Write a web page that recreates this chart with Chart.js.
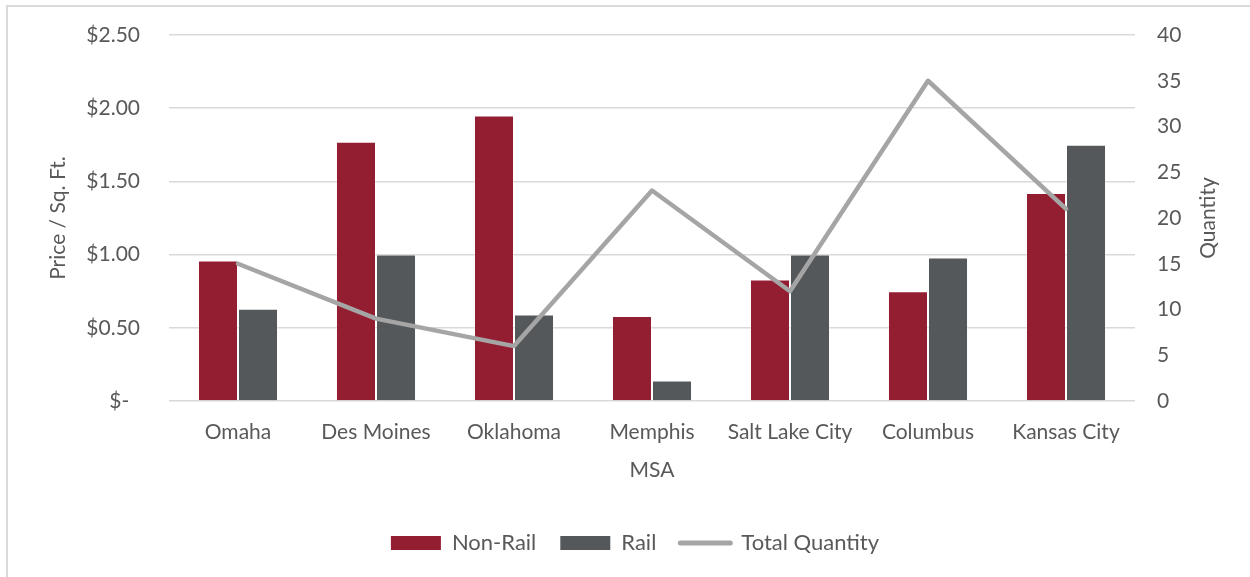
<!DOCTYPE html>
<html>
<head>
<meta charset="utf-8">
<script src="https://cdn.jsdelivr.net/npm/chart.js@4.4.0/dist/chart.umd.min.js"></script>
<style>
  html, body { margin: 0; padding: 0; background: #fff; }
  #wrap { position: relative; width: 1250px; height: 577px; }
</style>
</head>
<body>
<div id="wrap">
  <canvas id="msaChart" width="1250" height="577"></canvas>
</div>
<script>
const cities = ['Omaha', 'Des Moines', 'Oklahoma', 'Memphis', 'Salt Lake City', 'Columbus', 'Kansas City'];
const nonRailPrice = [0.96, 1.77, 1.95, 0.58, 0.83, 0.75, 1.42];
const railPrice = [0.63, 1.00, 0.59, 0.14, 1.00, 0.98, 1.75];
const totalQuantity = [15, 9, 6, 23, 12, 35, 21];
const priceTicks = [0, 0.5, 1, 1.5, 2, 2.5];
const quantityTicks = [0, 5, 10, 15, 20, 25, 30, 35, 40];

const TEXT = '#595959';
const FONT = 'Lato, "Open Sans", sans-serif';
const FONT_SIZE = 21;
const PAD_LEFT = 20;

// light frame around the figure
const frame = {
  id: 'frame',
  beforeDraw(chart) {
    const ctx = chart.ctx;
    ctx.save();
    ctx.fillStyle = '#fff';
    ctx.fillRect(0, 0, chart.width, chart.height);
    ctx.strokeStyle = '#d9d9d9';
    ctx.lineWidth = 2;
    ctx.beginPath();
    ctx.moveTo(7, chart.height);
    ctx.lineTo(7, 6);
    ctx.lineTo(chart.width, 6);
    ctx.stroke();
    ctx.restore();
  }
};

// right axis title, reading bottom-to-top like the left one
const qtyTitle = {
  id: 'qtyTitle',
  afterDraw(chart) {
    const scale = chart.scales.qty;
    const area = chart.chartArea;
    const ctx = chart.ctx;
    ctx.save();
    ctx.translate(scale.right - 42, (area.top + area.bottom) / 2);
    ctx.rotate(-Math.PI / 2);
    ctx.font = FONT_SIZE + 'px ' + FONT;
    ctx.fillStyle = TEXT;
    ctx.textAlign = 'center';
    ctx.textBaseline = 'middle';
    ctx.fillText('Quantity', 0, 0);
    ctx.restore();
  }
};

Chart.defaults.font.family = FONT;
Chart.defaults.font.size = FONT_SIZE;
Chart.defaults.color = TEXT;

new Chart(document.getElementById('msaChart'), {
  data: {
    labels: cities,
    datasets: [
      {
        type: 'bar',
        label: 'Non-Rail',
        data: nonRailPrice,
        backgroundColor: '#931e31',
        borderColor: 'rgba(255,255,255,0.35)',
        borderWidth: 1,
        yAxisID: 'price',
        order: 1
      },
      {
        type: 'bar',
        label: 'Rail',
        data: railPrice,
        backgroundColor: '#54585a',
        borderColor: 'rgba(255,255,255,0.35)',
        borderWidth: 1,
        yAxisID: 'price',
        order: 1
      },
      {
        type: 'line',
        label: 'Total Quantity',
        data: totalQuantity,
        borderColor: '#a5a5a5',
        backgroundColor: '#a5a5a5',
        borderWidth: 4.5,
        borderJoinStyle: 'round',
        borderCapStyle: 'round',
        pointRadius: 0,
        pointHoverRadius: 0,
        tension: 0,
        yAxisID: 'qty',
        order: 0
      }
    ]
  },
  options: {
    responsive: false,
    animation: false,
    events: [],
    layout: { padding: { top: 35, left: PAD_LEFT, right: 0, bottom: 13 } },
    datasets: {
      bar: { categoryPercentage: 0.58, barPercentage: 1 }
    },
    scales: {
      x: {
        grid: { display: false },
        border: { display: false },
        ticks: { padding: 11, maxRotation: 0, autoSkip: false },
        title: { display: true, text: 'MSA', padding: { top: 0, bottom: 25 } },
        afterFit(scale) { scale.height = 107; }
      },
      price: {
        position: 'left',
        min: 0,
        max: 2.5,
        afterBuildTicks(scale) { scale.ticks = priceTicks.map(v => ({ value: v })); },
        ticks: {
          padding: 5,
          callback: v => v === 0 ? '$-  ' : '$' + v.toFixed(2)
        },
        // invisible tick marks keep the labels away from the plot
        grid: { color: '#d9d9d9', lineWidth: 1.5, drawTicks: true, tickLength: 24, tickColor: 'rgba(0,0,0,0)' },
        border: { display: false },
        title: { display: true, text: 'Price / Sq. Ft.', padding: { top: 46 - PAD_LEFT, bottom: 0 } },
        afterFit(scale) { scale.width = 169 - PAD_LEFT; }
      },
      qty: {
        position: 'right',
        min: 0,
        max: 40,
        afterBuildTicks(scale) { scale.ticks = quantityTicks.map(v => ({ value: v })); },
        ticks: { padding: 5 },
        grid: { display: true, drawOnChartArea: false, drawTicks: true, tickLength: 17, tickColor: 'rgba(0,0,0,0)' },
        border: { display: false },
        afterFit(scale) { scale.width = 1250 - 1135; }
      }
    },
    plugins: {
      tooltip: { enabled: false },
      legend: {
        position: 'bottom',
        labels: {
          usePointStyle: true,
          pointStyleWidth: 50,
          boxHeight: 14,
          padding: 24,
          font: { size: 22 },
          sort: (a, b) => a.datasetIndex - b.datasetIndex,
          generateLabels(chart) {
            const items = Chart.defaults.plugins.legend.labels.generateLabels(chart);
            items.forEach(item => {
              const ds = chart.data.datasets[item.datasetIndex];
              if (ds.type === 'line') {
                item.pointStyle = 'line';
                item.lineCap = 'round';
                item.lineWidth = 5;
                item.strokeStyle = ds.borderColor;
              } else {
                item.pointStyle = 'rect';
                item.lineWidth = 0;
                item.strokeStyle = ds.backgroundColor;
              }
            });
            return items;
          }
        }
      }
    }
  },
  plugins: [frame, qtyTitle]
});
</script>
</body>
</html>
